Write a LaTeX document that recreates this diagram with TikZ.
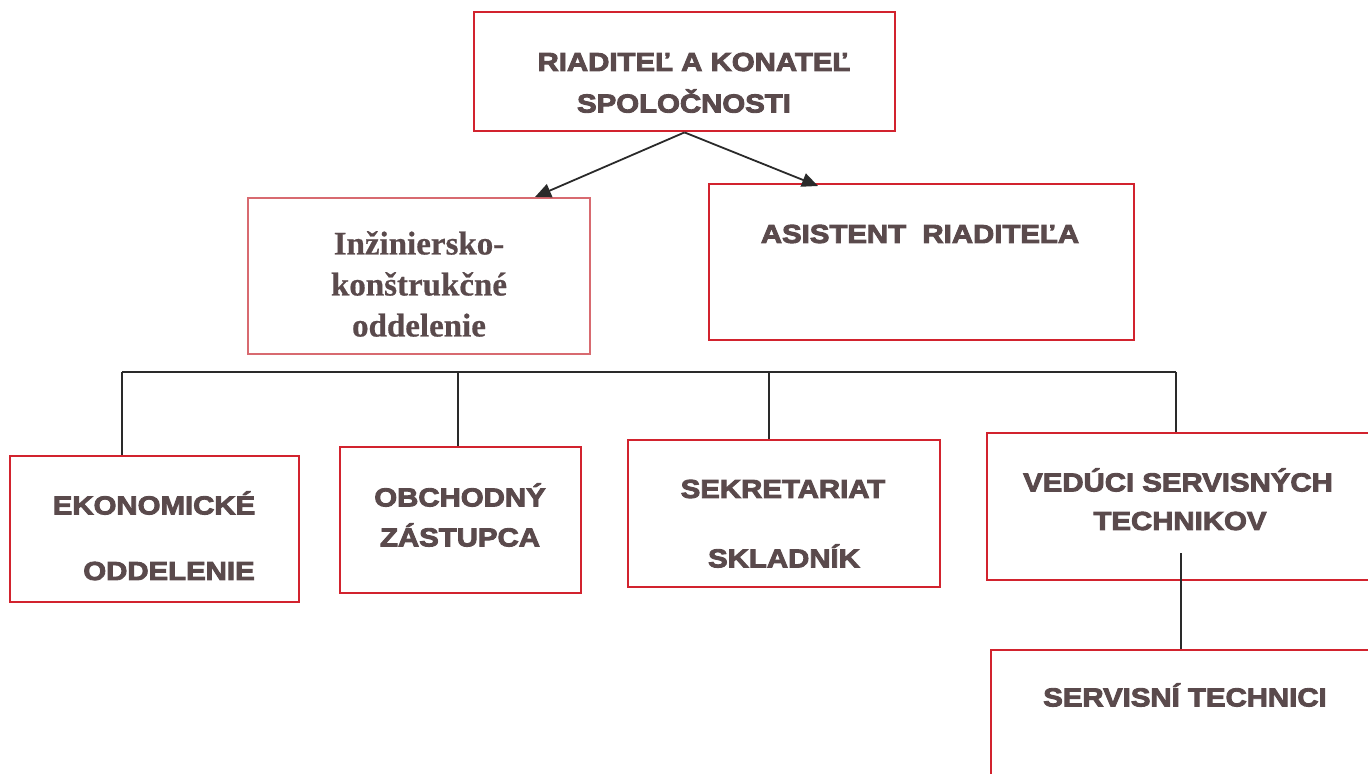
\documentclass[tikz,border=0pt]{standalone}
\usepackage{fontspec}
\setmainfont{Liberation Serif}
\newfontfamily\heavy[FakeBold=3.5,FakeStretch=1.13]{Liberation Sans Bold}
\newfontfamily\serifb[FakeBold=0.6]{Liberation Serif Bold}
\usetikzlibrary{arrows.meta}
\definecolor{boxred}{HTML}{D2232E}
\definecolor{lightred}{HTML}{D86A70}
\definecolor{txt}{HTML}{5A4A4C}
\definecolor{ln}{HTML}{2A2A2A}
\tikzset{
  box/.style={draw=boxred,line width=1.4pt,rectangle,inner sep=0pt},
  lbox/.style={draw=lightred,line width=0.7pt,rectangle,inner sep=0pt},
  ht/.style={font=\heavy\fontsize{13}{15}\selectfont,text=txt,inner sep=0pt,anchor=center},
  st/.style={font=\serifb\fontsize{16.5}{20.5}\selectfont,text=txt,inner sep=0pt,align=center},
  conn/.style={draw=ln,line width=0.9pt},
  arr/.style={draw=ln,line width=0.9pt,-{Triangle[length=8pt,width=7pt]}}
}
\begin{document}
\begin{tikzpicture}[x=0.5pt,y=-0.5pt]
\useasboundingbox (0,0) rectangle (1368,774);
% boxes
\node[box,minimum width=210.5pt,minimum height=59.5pt] (top) at (684.5,71.5) {};
\node[lbox,minimum width=171pt,minimum height=78pt] (inz) at (419,276) {};
\node[box,minimum width=212.5pt,minimum height=78pt] (asis) at (921.5,262) {};
\node[box,minimum width=144.5pt,minimum height=73pt] (eko) at (154.5,529) {};
\node[box,minimum width=120.5pt,minimum height=73pt] (obch) at (460.5,520) {};
\node[box,minimum width=156pt,minimum height=73.5pt] (sekr) at (784,513.5) {};
\node[box,minimum width=194pt,minimum height=73.5pt] (ved) at (1181,506.5) {};
\node[box,minimum width=192pt,minimum height=70pt] (serv) at (1183,720) {};
% texts
\node[ht] (t1) at (694,62) {RIADITEĽ A KONATEĽ};
\node[ht] (t2) at (684,101) {SPOLOČNOSTI};
\node[st] (t3) at (419,284) {Inžiniersko-\\konštrukčné\\oddelenie};
\node[ht] (t4) at (920,234) {ASISTENT\ \ RIADITEĽA};
\node[ht] (t5) at (154,503) {EKONOMICKÉ};
\node[ht] (t6) at (169,571) {ODDELENIE};
\node[ht] (t7) at (460,495) {OBCHODNÝ};
\node[ht] (t8) at (460,535) {ZÁSTUPCA};
\node[ht] (t9) at (783,489) {SEKRETARIAT};
\node[ht] (t10) at (784,556) {SKLADNÍK};
\node[ht] (t11) at (1178,480) {VEDÚCI SERVISNÝCH};
\node[ht] (t12) at (1180,521) {TECHNIKOV};
\node[ht] (t13) at (1185,695) {SERVISNÍ TECHNICI};
% arrows
\draw[arr] (top.south) -- (535,197);
\draw[arr] (top.south) -- (818,186);
% bus
\coordinate (b1) at (122,372);
\coordinate (b2) at (458,372);
\coordinate (b3) at (769,372);
\coordinate (b4) at (1176,372);
\draw[conn] (b1) -- (b4);
\draw[conn] (b1) -- (b1 |- eko.north);
\draw[conn] (b2) -- (b2 |- obch.north);
\draw[conn] (b3) -- (b3 |- sekr.north);
\draw[conn] (b4) -- (b4 |- ved.north);
\coordinate (vs) at (1181,553);
\draw[conn] (vs) -- (vs |- serv.north);
\end{tikzpicture}
\end{document}
